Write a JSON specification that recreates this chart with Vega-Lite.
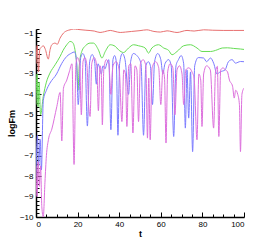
{
"$schema": "https://vega.github.io/schema/vega-lite/v6.json",
"width": 208, "height": 188,
"autosize": "none",
"padding": {"left": 36, "top": 29, "right": 33, "bottom": 29},
"config": {"view": {"stroke": null},
 "axis": {"labelFont": "Liberation Sans", "titleFont": "Liberation Sans", "labelFontSize": 8, "titleFontSize": 9, "titleFontWeight": "bold", "labelColor": "black", "titleColor": "black", "domainColor": "black", "domainWidth": 1.5, "tickColor": "black", "grid": false}},
"datasets": {"d": [
{"s":"a","t":0,"v":-2.5},{"s":"a","t":0.6,"v":-1.6},{"s":"a","t":1.2,"v":-2.9},{"s":"a","t":1.8,"v":-1.8},{"s":"a","t":2.5,"v":-1.7},{"s":"a","t":3.5,"v":-1.62},{"s":"a","t":4.5,"v":-1.8},{"s":"a","t":5.9,"v":-2.27},{"s":"a","t":6.8,"v":-1.8},{"s":"a","t":7.6,"v":-1.57},{"s":"a","t":9.2,"v":-1.49},{"s":"a","t":10.2,"v":-1.55},{"s":"a","t":11.6,"v":-1.24},{"s":"a","t":13.2,"v":-1.0},{"s":"a","t":15,"v":-0.88},{"s":"a","t":16.4,"v":-0.84},{"s":"a","t":18,"v":-0.8},{"s":"a","t":20,"v":-0.82},{"s":"a","t":24,"v":-0.86},{"s":"a","t":28,"v":-0.9},{"s":"a","t":30.8,"v":-0.97},{"s":"a","t":33,"v":-0.93},{"s":"a","t":35.7,"v":-0.87},{"s":"a","t":38,"v":-0.92},{"s":"a","t":40.5,"v":-0.97},{"s":"a","t":43,"v":-0.95},{"s":"a","t":46,"v":-0.92},{"s":"a","t":50,"v":-0.88},{"s":"a","t":53.3,"v":-0.84},{"s":"a","t":56.7,"v":-0.92},{"s":"a","t":59.8,"v":-0.95},{"s":"a","t":63,"v":-0.89},{"s":"a","t":67.8,"v":-0.97},{"s":"a","t":72.6,"v":-0.87},{"s":"a","t":76,"v":-0.9},{"s":"a","t":80.6,"v":-0.84},{"s":"a","t":85,"v":-0.86},{"s":"a","t":90,"v":-0.87},{"s":"a","t":95,"v":-0.87},{"s":"a","t":100,"v":-0.87},
{"s":"b","t":0,"v":-4.5},{"s":"b","t":0.5,"v":-3.0},{"s":"b","t":1,"v":-4.6},{"s":"b","t":1.5,"v":-3.4},{"s":"b","t":2.2,"v":-5},{"s":"b","t":3.5,"v":-4.1},{"s":"b","t":5,"v":-3.4},{"s":"b","t":6.7,"v":-2.96},{"s":"b","t":9.2,"v":-2.55},{"s":"b","t":11.6,"v":-2.14},{"s":"b","t":13,"v":-1.85},{"s":"b","t":14.8,"v":-1.57},{"s":"b","t":16.4,"v":-1.41},{"s":"b","t":17.5,"v":-1.45},{"s":"b","t":18.7,"v":-1.8},{"s":"b","t":19.6,"v":-2.6},{"s":"b","t":20.2,"v":-3.8},{"s":"b","t":20.8,"v":-2.6},{"s":"b","t":22,"v":-1.9},{"s":"b","t":24,"v":-1.6},{"s":"b","t":26,"v":-1.49},{"s":"b","t":27.6,"v":-1.49},{"s":"b","t":30,"v":-1.82},{"s":"b","t":31.7,"v":-2.22},{"s":"b","t":33.3,"v":-1.9},{"s":"b","t":35.7,"v":-1.57},{"s":"b","t":38.1,"v":-1.65},{"s":"b","t":39.7,"v":-1.82},{"s":"b","t":42.1,"v":-1.95},{"s":"b","t":44.5,"v":-1.73},{"s":"b","t":46.9,"v":-1.57},{"s":"b","t":49.3,"v":-1.62},{"s":"b","t":52.5,"v":-1.73},{"s":"b","t":54.1,"v":-1.98},{"s":"b","t":55.7,"v":-1.73},{"s":"b","t":58.9,"v":-1.57},{"s":"b","t":61.4,"v":-1.73},{"s":"b","t":63.8,"v":-1.85},{"s":"b","t":65.4,"v":-2.06},{"s":"b","t":67.8,"v":-1.9},{"s":"b","t":71,"v":-1.62},{"s":"b","t":74.2,"v":-1.57},{"s":"b","t":77.4,"v":-1.73},{"s":"b","t":79.8,"v":-1.9},{"s":"b","t":83.9,"v":-1.9},{"s":"b","t":87.1,"v":-1.82},{"s":"b","t":89.5,"v":-1.73},{"s":"b","t":92,"v":-1.72},{"s":"b","t":95,"v":-1.75},{"s":"b","t":98.3,"v":-1.78},{"s":"b","t":100,"v":-1.8},
{"s":"c","t":0,"v":-8},{"s":"c","t":0.7,"v":-6},{"s":"c","t":1.3,"v":-7.5},{"s":"c","t":2,"v":-6.2},{"s":"c","t":2.6,"v":-7.7},{"s":"c","t":3.5,"v":-4.3},{"s":"c","t":5,"v":-3.8},{"s":"c","t":6.7,"v":-3.45},{"s":"c","t":9.9,"v":-3.0},{"s":"c","t":12.3,"v":-2.5},{"s":"c","t":14.8,"v":-2.14},{"s":"c","t":17.1,"v":-1.98},{"s":"c","t":18.5,"v":-1.92},{"s":"c","t":19.5,"v":-2.4},{"s":"c","t":20.3,"v":-4.5},{"s":"c","t":21.5,"v":-2.2},{"s":"c","t":22.5,"v":-2.0},{"s":"c","t":23.6,"v":-2.3},{"s":"c","t":24.7,"v":-5.55},{"s":"c","t":25.8,"v":-2.4},{"s":"c","t":27,"v":-2.05},{"s":"c","t":28.2,"v":-2.4},{"s":"c","t":29,"v":-3.5},{"s":"c","t":29.8,"v":-2.5},{"s":"c","t":30.6,"v":-2.7},{"s":"c","t":31.4,"v":-3.0},{"s":"c","t":32.2,"v":-2.6},{"s":"c","t":33.2,"v":-2.75},{"s":"c","t":34,"v":-2.5},{"s":"c","t":35,"v":-2.3},{"s":"c","t":36,"v":-5.73},{"s":"c","t":37,"v":-2.3},{"s":"c","t":37.8,"v":-2.1},{"s":"c","t":38.6,"v":-2.4},{"s":"c","t":39.4,"v":-6.0},{"s":"c","t":40.2,"v":-2.5},{"s":"c","t":41.5,"v":-2.0},{"s":"c","t":42.8,"v":-2.3},{"s":"c","t":44.5,"v":-4.0},{"s":"c","t":45.5,"v":-2.4},{"s":"c","t":46.8,"v":-2.0},{"s":"c","t":48.5,"v":-2.1},{"s":"c","t":50.5,"v":-2.5},{"s":"c","t":51.7,"v":-6.0},{"s":"c","t":52.8,"v":-2.6},{"s":"c","t":54,"v":-2.4},{"s":"c","t":55,"v":-2.6},{"s":"c","t":56,"v":-4.5},{"s":"c","t":57,"v":-2.4},{"s":"c","t":58.5,"v":-2.0},{"s":"c","t":60,"v":-2.3},{"s":"c","t":61,"v":-3.0},{"s":"c","t":62,"v":-2.5},{"s":"c","t":63.8,"v":-2.3},{"s":"c","t":65,"v":-2.6},{"s":"c","t":66.2,"v":-6.06},{"s":"c","t":67.3,"v":-2.6},{"s":"c","t":68.5,"v":-2.3},{"s":"c","t":69.8,"v":-2.1},{"s":"c","t":71,"v":-2.5},{"s":"c","t":71.8,"v":-5.65},{"s":"c","t":72.6,"v":-2.8},{"s":"c","t":73.4,"v":-5.16},{"s":"c","t":74.3,"v":-2.9},{"s":"c","t":75.3,"v":-6.8},{"s":"c","t":76.3,"v":-2.6},{"s":"c","t":78,"v":-2.2},{"s":"c","t":80.6,"v":-2.22},{"s":"c","t":82,"v":-2.4},{"s":"c","t":83.9,"v":-2.22},{"s":"c","t":85.5,"v":-2.5},{"s":"c","t":87,"v":-3.0},{"s":"c","t":88.5,"v":-2.9},{"s":"c","t":90.9,"v":-2.8},{"s":"c","t":92.5,"v":-2.4},{"s":"c","t":94.3,"v":-2.3},{"s":"c","t":95.9,"v":-2.47},{"s":"c","t":98.3,"v":-2.39},{"s":"c","t":100,"v":-2.4},
{"s":"d","t":0,"v":-7.5},{"s":"d","t":0.5,"v":-9},{"s":"d","t":1,"v":-7.3},{"s":"d","t":1.6,"v":-8.5},{"s":"d","t":2.2,"v":-7.5},{"s":"d","t":2.8,"v":-9.5},{"s":"d","t":3.5,"v":-10},{"s":"d","t":4.3,"v":-8.3},{"s":"d","t":5,"v":-7.0},{"s":"d","t":6,"v":-6.2},{"s":"d","t":7.6,"v":-5.7},{"s":"d","t":10,"v":-4.6},{"s":"d","t":11.6,"v":-3.9},{"s":"d","t":12.4,"v":-6.28},{"s":"d","t":13.2,"v":-3.7},{"s":"d","t":14.8,"v":-3.3},{"s":"d","t":16,"v":-2.9},{"s":"d","t":17.3,"v":-2.5},{"s":"d","t":18.3,"v":-7.43},{"s":"d","t":19.2,"v":-2.5},{"s":"d","t":20,"v":-2.2},{"s":"d","t":21,"v":-2.5},{"s":"d","t":21.8,"v":-5.0},{"s":"d","t":22.6,"v":-2.4},{"s":"d","t":23.5,"v":-2.2},{"s":"d","t":24.5,"v":-2.6},{"s":"d","t":25.3,"v":-4.5},{"s":"d","t":26,"v":-5.08},{"s":"d","t":26.8,"v":-2.5},{"s":"d","t":28,"v":-2.2},{"s":"d","t":29.2,"v":-2.6},{"s":"d","t":30,"v":-4.8},{"s":"d","t":30.8,"v":-2.6},{"s":"d","t":31.4,"v":-3.0},{"s":"d","t":31.9,"v":-5.49},{"s":"d","t":32.6,"v":-2.8},{"s":"d","t":33.8,"v":-2.3},{"s":"d","t":35,"v":-2.5},{"s":"d","t":36,"v":-4.0},{"s":"d","t":37,"v":-2.6},{"s":"d","t":38.5,"v":-2.4},{"s":"d","t":40,"v":-2.8},{"s":"d","t":41.3,"v":-5.33},{"s":"d","t":42.2,"v":-2.8},{"s":"d","t":43,"v":-3.0},{"s":"d","t":43.7,"v":-5.57},{"s":"d","t":44.6,"v":-2.6},{"s":"d","t":45.6,"v":-2.5},{"s":"d","t":46.6,"v":-5.89},{"s":"d","t":47.6,"v":-2.6},{"s":"d","t":48.5,"v":-2.8},{"s":"d","t":49.3,"v":-5.33},{"s":"d","t":50.2,"v":-2.5},{"s":"d","t":51.5,"v":-2.3},{"s":"d","t":52.8,"v":-2.6},{"s":"d","t":53.6,"v":-6.14},{"s":"d","t":54.2,"v":-3.2},{"s":"d","t":54.9,"v":-6.22},{"s":"d","t":55.8,"v":-2.7},{"s":"d","t":57.5,"v":-2.4},{"s":"d","t":59,"v":-2.7},{"s":"d","t":60,"v":-4.5},{"s":"d","t":61,"v":-2.8},{"s":"d","t":61.8,"v":-3.2},{"s":"d","t":62.5,"v":-6.38},{"s":"d","t":63.3,"v":-2.9},{"s":"d","t":64.5,"v":-2.5},{"s":"d","t":65.8,"v":-2.7},{"s":"d","t":66.8,"v":-5.0},{"s":"d","t":67.8,"v":-2.8},{"s":"d","t":69,"v":-2.6},{"s":"d","t":70.2,"v":-3.0},{"s":"d","t":71,"v":-4.5},{"s":"d","t":72,"v":-2.8},{"s":"d","t":73.5,"v":-2.7},{"s":"d","t":75,"v":-2.9},{"s":"d","t":76,"v":-3.2},{"s":"d","t":77.4,"v":-6.22},{"s":"d","t":78.3,"v":-3.0},{"s":"d","t":79.2,"v":-3.3},{"s":"d","t":79.8,"v":-5.57},{"s":"d","t":80.6,"v":-3.0},{"s":"d","t":82,"v":-2.6},{"s":"d","t":83.8,"v":-2.8},{"s":"d","t":85.4,"v":-5.65},{"s":"d","t":86.3,"v":-2.9},{"s":"d","t":87.2,"v":-2.63},{"s":"d","t":87.9,"v":-6.06},{"s":"d","t":88.8,"v":-2.8},{"s":"d","t":90,"v":-2.7},{"s":"d","t":91,"v":-2.8},{"s":"d","t":92,"v":-2.88},{"s":"d","t":93,"v":-3.3},{"s":"d","t":94.5,"v":-3.6},{"s":"d","t":95.3,"v":-4.18},{"s":"d","t":96,"v":-3.8},{"s":"d","t":97,"v":-4.0},{"s":"d","t":97.8,"v":-4.5},{"s":"d","t":98.3,"v":-6.8},{"s":"d","t":99,"v":-4.0},{"s":"d","t":100,"v":-3.69}
]},
"data": {"name": "d"},
"layer": [
 {"mark": {"type": "line", "strokeWidth": 1, "interpolate": "monotone", "clip": true},
  "encoding": {
   "x": {"field": "t", "type": "quantitative", "scale": {"domain": [0, 100], "nice": false},
     "axis": {"orient": "bottom", "values": [0,20,40,60,80,100], "tickSize": -5, "tickWidth": 1, "labelPadding": 8, "title": "t", "titlePadding": 1}},
   "y": {"field": "v", "type": "quantitative", "scale": {"domain": [-10, -0.8], "nice": false, "zero": false},
     "axis": {"orient": "left", "values": [-1,-2,-3,-4,-5,-6,-7,-8,-9,-10], "tickSize": -5, "tickWidth": 1, "labelPadding": 8, "title": "logFm", "titlePadding": 3}},
   "color": {"field": "s", "type": "nominal", "scale": {"domain": ["a","b","c","d"], "range": ["#e87070", "#66dd55", "#7b7bff", "#dd70dd"]}, "legend": null}
  }},
 {"mark": {"type": "line", "strokeOpacity": 0},
  "encoding": {
   "x": {"field": "t", "type": "quantitative", "scale": {"domain": [0, 100], "nice": false},
     "axis": {"orient": "bottom", "values": [5,10,15,25,30,35,45,50,55,65,70,75,85,90,95], "tickSize": -3, "tickWidth": 1, "labels": false, "domain": false, "title": null}},
   "y": {"field": "v", "type": "quantitative", "scale": {"domain": [-10, -0.8], "nice": false, "zero": false},
     "axis": {"orient": "left", "values": [-9.8,-9.6,-9.4,-9.2,-8.8,-8.6,-8.4,-8.2,-7.8,-7.6,-7.4,-7.2,-6.8,-6.6,-6.4,-6.2,-5.8,-5.6,-5.4,-5.2,-4.8,-4.6,-4.4,-4.2,-3.8,-3.6,-3.4,-3.2,-2.8,-2.6,-2.4,-2.2,-1.8,-1.6,-1.4,-1.2,-0.8], "tickSize": -3, "tickWidth": 1, "labels": false, "domain": false, "title": null}},
   "detail": {"field": "s"}
  }}
],
"resolve": {"axis": {"x": "independent", "y": "independent"}}
}
